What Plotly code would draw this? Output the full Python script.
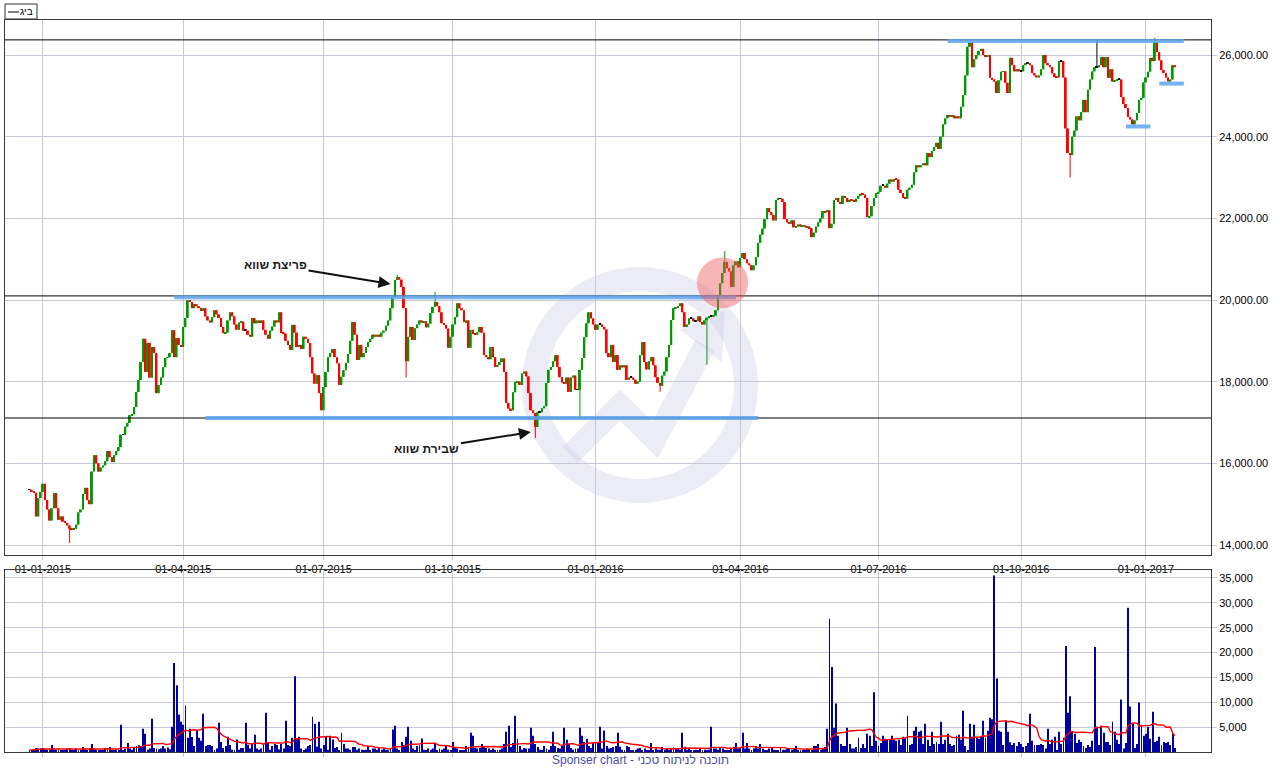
import numpy as np
import pandas as pd
import plotly.graph_objects as go

# ---------------- trading calendar (TASE: Sunday-Thursday) ----------------
HOLIDAYS = [
    "2015-03-17", "2015-04-23", "2015-05-24", "2015-07-26",
    "2015-09-13", "2015-09-14", "2015-09-15", "2015-09-22", "2015-09-23",
    "2015-09-27", "2015-09-28", "2015-10-04", "2015-10-05",
    "2016-04-28", "2016-05-12", "2016-06-12", "2016-08-14",
    "2016-10-02", "2016-10-03", "2016-10-04", "2016-10-11", "2016-10-12",
    "2016-10-16", "2016-10-17", "2016-10-23", "2016-10-24",
]
dates = pd.bdate_range("2014-12-24", "2017-01-18", freq="C",
                       weekmask="Sun Mon Tue Wed Thu", holidays=HOLIDAYS)

QUARTER_TICKS = ["2015-01-01", "2015-04-01", "2015-07-01", "2015-10-01",
                 "2016-01-01", "2016-04-01", "2016-07-01", "2016-10-01",
                 "2017-01-01"]

# ---------------- closing prices, per quarter ----------------
close_2014_12 = [15350, 15320, 15280, 14700, 15150, 15300]
close_2015_q1 = [
    15500, 15100, 14870, 14600, 14900, 15270, 14900, 14620, 14700, 14570,
    14540, 14480, 14400, 14380, 14400, 14500, 14800, 14870, 15250, 15400,
    15100, 15000, 15800, 16200, 16000, 15800, 15900, 15950, 16050, 16300,
    16150, 16030, 16200, 16300, 16400, 16700, 16700, 16900, 16990, 17180,
    17200, 17380, 17750, 18040, 18480, 19050, 18240, 18950, 18100, 18850,
    18700, 17720, 17920, 18100, 18360, 18580, 18600, 18700, 19260, 18600,
    19070, 18900, 18850]
close_2015_q2 = [
    19340, 19560, 20000, 19950, 19800, 19900, 19850, 19800, 19730, 19800,
    19600, 19500, 19450, 19580, 19750, 19650, 19560, 19340, 19190, 19200,
    19500, 19700, 19600, 19400, 19270, 19450, 19470, 19250, 19250, 19150,
    19100, 19560, 19430, 19500, 19460, 19500, 19270, 19150, 19050, 19250,
    19350, 19500, 19450, 19700, 19190, 19180, 19000, 18900, 18780, 19390,
    19200, 18850, 18900, 18800, 19100, 19050, 18950, 18600, 18200, 17950,
    18160, 17720, 17300]
close_2015_q3 = [
    17870, 18240, 18600, 18700, 18800, 18600, 18450, 17920, 18120, 18280,
    18460, 18680, 19000, 19460, 19150, 18530, 18900, 18600, 18700, 18850,
    18970, 19050, 19150, 19100, 19150, 19100, 19200, 19250, 19370, 19500,
    19800, 20070, 20490, 20560, 20500, 20320, 19800, 18500, 19100, 19340,
    19020, 19310, 19400, 19500, 19450, 19480, 19330, 19420, 19680, 19830,
    19950, 19850, 19700, 19430, 19390, 19300, 18830, 19100]
close_2015_q4 = [
    19400, 19580, 19920, 19800, 19750, 19460, 19500, 18830, 19270, 19170,
    19150, 19210, 19340, 19200, 18650, 18600, 18550, 18850, 18600, 18360,
    18410, 18480, 18570, 18240, 17480, 17340, 17300, 17740, 17990, 18000,
    17920, 18200, 18250, 18130, 17720, 17300, 17230, 16890, 17250, 17250,
    17350, 17400, 17970, 18290, 18360, 18500, 18650, 18360, 18110, 17980,
    17950, 18100, 17750, 18100, 18150, 17800, 17800, 18290, 18580, 19090,
    19430, 19700, 19550, 19400]
close_2016_q1 = [
    19270, 19400, 19400, 19340, 19280, 18700, 18600, 18900, 18480, 18650,
    18290, 18400, 18350, 18400, 18040, 18100, 18100, 18050, 17950, 18000,
    18650, 18970, 18480, 18300, 18500, 18600, 18400, 18110, 17970, 17900,
    18150, 18250, 18600, 18900, 19510, 19800, 19820, 19850, 19920, 19700,
    19340, 19400, 19550, 19550, 19480, 19480, 19600, 19460, 19400, 19500,
    19570, 19600, 19600, 19620, 19750, 20120, 20410, 20660, 20930, 20780,
    20700, 20320, 20850, 20950, 20800]
close_2016_q2 = [
    21030, 21150, 21000, 20900, 20850, 20730, 20850, 21050, 21400, 21600,
    21750, 21980, 22250, 22150, 22080, 21950, 22450, 22480, 22480, 22400,
    21980, 21900, 21870, 21950, 21780, 21800, 21850, 21800, 21830, 21780,
    21800, 21760, 21540, 21650, 21800, 21900, 22000, 22180, 22150, 22200,
    21760, 21870, 22450, 22500, 22400, 22350, 22550, 22500, 22400, 22450,
    22430, 22400, 22480, 22550, 22600, 22580, 22500, 22030, 22050, 22300,
    22500, 22620]
close_2016_q3 = [
    22650, 22800, 22800, 22750, 22850, 22950, 22900, 22960, 22950, 22700,
    22620, 22500, 22480, 22700, 22750, 22820, 23130, 23300, 23250, 23300,
    23350, 23300, 23600, 23500, 23650, 23750, 23850, 23700, 24000, 24300,
    24450, 24530, 24500, 24520, 24450, 24500, 24450, 24730, 25020, 25500,
    26200, 26300, 25700, 25900, 26000, 26100, 26150, 26000, 25950, 26000,
    25440, 25400, 25350, 25070, 25380, 25590, 25600, 25320, 25070, 25930,
    25750, 25600, 25650, 25600]
close_2016_q4 = [
    25600, 25750, 25800, 25800, 25750, 25560, 25500, 25450, 25500, 25650,
    26000, 25800, 25750, 25700, 25550, 25460, 25450, 25850, 25850, 25450,
    24200, 23600, 23550, 24000, 24150, 24500, 24400, 24600, 24900, 24600,
    25150, 25400, 25600, 25700, 25700, 25750, 25950, 25700, 25950, 25440,
    25650, 25350, 25380, 25400, 25400, 24970, 24800, 24700, 24480, 24420,
    24300, 24400, 24580, 24900, 24950, 25330]
close_2017_01 = [25450, 25590, 25930, 25850, 26320, 26070, 25870, 25630, 25560, 25450,
                 25350, 25400, 25750, 25700]

# notable intraday extremes (wicks)
HIGH_MARKS = {"2015-08-18": 20620, "2015-09-10": 20200, "2016-03-23": 21200,
              "2016-11-30": 26370, "2017-01-05": 26420}
LOW_MARKS = {"2015-01-19": 14050, "2015-08-24": 18100, "2015-11-25": 16620,
             "2015-12-23": 17110, "2016-02-11": 17750, "2016-03-13": 18410,
             "2016-11-14": 23000}

# ---------------- volume, per quarter ----------------
vol_2014_12 = [340, 470, 540, 810, 680, 680]
vol_2015_q1 = [
    810, 540, 470, 540, 1400, 680, 340, 680, 340, 340,
    470, 680, 810, 340, 470, 680, 340, 340, 1000, 540,
    340, 680, 1600, 680, 470, 340, 340, 470, 810, 810,
    1020, 340, 340, 470, 200, 5500, 340, 680, 1800, 680,
    470, 1020, 1220, 1350, 1220, 4700, 3650, 470, 680, 6700,
    810, 680, 540, 680, 1220, 680, 880, 540, 5100, 17900,
    13400, 7500, 6100]
vol_2015_q2 = [
    5500, 9350, 2850, 4700, 3000, 1220, 4300, 2850, 2240, 7700,
    1220, 1420, 1420, 1220, 300, 680, 5900, 2030, 810, 1220,
    3050, 1420, 470, 340, 2500, 470, 810, 810, 5900, 1420,
    680, 1830, 3450, 680, 470, 680, 1700, 7900, 1830, 470,
    1220, 1630, 1420, 500, 1630, 680, 6300, 1420, 1220, 2850,
    15250, 2640, 3050, 680, 340, 680, 1220, 1420, 7100, 5700,
    1080, 6100, 680]
vol_2015_q3 = [
    1420, 3050, 470, 3250, 2500, 810, 1020, 340, 3860, 1630,
    680, 680, 470, 1020, 1020, 470, 680, 470, 340, 470,
    1220, 340, 680, 680, 470, 810, 470, 680, 470, 470,
    680, 4500, 5300, 680, 340, 2030, 1420, 3050, 5100, 2240,
    680, 340, 1220, 1350, 2700, 470, 340, 680, 470, 680,
    1630, 340, 680, 470, 680, 1420, 470, 340]
vol_2015_q4 = [
    2030, 1020, 680, 340, 200, 200, 1220, 1020, 3860, 3250,
    810, 680, 810, 1630, 1220, 810, 680, 340, 680, 470,
    340, 470, 680, 1630, 4050, 5300, 1020, 1830, 7300, 2640,
    1220, 470, 810, 680, 680, 4900, 3250, 1630, 1020, 470,
    340, 1220, 680, 470, 1220, 4050, 1220, 810, 680, 1220,
    4900, 2440, 1630, 810, 470, 680, 680, 4900, 3250, 2030,
    2640, 1220, 810, 1830]
vol_2016_q1 = [
    2030, 2030, 5100, 680, 4300, 1220, 680, 810, 1020, 1220,
    3860, 1080, 470, 340, 1220, 1020, 340, 340, 470, 680,
    810, 340, 680, 340, 340, 1830, 340, 680, 470, 470,
    1020, 470, 680, 340, 680, 880, 680, 680, 470, 3860,
    1080, 470, 680, 340, 340, 470, 340, 680, 340, 470,
    340, 470, 5100, 680, 680, 470, 810, 680, 340, 340,
    340, 680, 1020, 1830, 680]
vol_2016_q2 = [
    810, 3860, 680, 1830, 680, 340, 680, 1220, 680, 1630,
    680, 340, 340, 680, 810, 470, 340, 340, 1020, 470,
    470, 680, 810, 470, 680, 1220, 340, 340, 470, 340,
    680, 470, 340, 1220, 1220, 1630, 470, 680, 1020, 4700,
    26800, 17100, 4900, 9750, 3250, 1630, 1220, 1220, 4900, 1630,
    680, 680, 1020, 2850, 810, 1630, 810, 3650, 3250, 1220,
    12000, 2240]
vol_2016_q3 = [
    1220, 1830, 3250, 2640, 2440, 2440, 3250, 2440, 2240, 2440,
    1420, 3050, 2850, 7300, 1420, 1630, 4270, 5100, 4060, 4270,
    1630, 5700, 2440, 1220, 4060, 1630, 2030, 1630, 6100, 1630,
    2440, 3660, 1630, 1220, 1420, 3250, 3460, 2440, 8300, 1220,
    340, 5700, 3050, 5500, 2850, 2640, 3050, 6300, 2850, 4270,
    6900, 6600, 35500, 14800, 4270, 4060, 1420, 6300, 4060, 1960,
    1420, 1830, 1220, 2030]
vol_2016_q4 = [
    1600, 1000, 1200, 1800, 7700, 2250, 1400, 1400, 1400, 1600,
    1400, 700, 4700, 1600, 2450, 3050, 300, 4050, 1600, 2850,
    21300, 7900, 11200, 4050, 3650, 1800, 2450, 2000, 1200, 800,
    1400, 1000, 2250, 21100, 5100, 1400, 5300, 3850, 2000, 2000,
    1400, 6100, 4050, 2450, 1600, 10550, 700, 1800, 29000, 9150,
    5700, 800, 1600, 9950, 5500, 3250]
vol_2017_01 = [3650, 5100, 2650, 8100, 2000, 2250, 3050, 1400, 2000, 1800,
               2000, 1400, 3650, 800]

MA_WINDOW = 20
SERIES_NAME = "ביג"

# ---------------- analyst drawings ----------------
BLACK_LEVELS = [26370, 20100, 17110]
BLUE_LINES = [  # (from, to, level); to=None -> runs past the last bar
    ("2015-03-26", "2016-03-30", 20070),
    ("2015-04-15", "2016-04-13", 17110),
    ("2016-08-16", None, 26340),
    ("2016-12-19", "2017-01-03", 24250),
    ("2017-01-09", None, 25300),
]
CIRCLE = ("2016-03-22", 20420)
NOTES = [  # text, arrow tip date, arrow tip price, text offset (px)
    ("פריצת שווא", "2015-08-13", 20390, -115, -19),
    ("שבירת שווא", "2015-11-23", 16770, -104, 17),
]

# ---------------- assemble ----------------
close = np.array(close_2014_12 + close_2015_q1 + close_2015_q2 + close_2015_q3 +
                 close_2015_q4 + close_2016_q1 + close_2016_q2 + close_2016_q3 +
                 close_2016_q4 + close_2017_01, dtype=float)
vol = np.array(vol_2014_12 + vol_2015_q1 + vol_2015_q2 + vol_2015_q3 + vol_2015_q4 +
               vol_2016_q1 + vol_2016_q2 + vol_2016_q3 + vol_2016_q4 + vol_2017_01,
               dtype=float)
assert len(close) == len(dates) == len(vol), (len(close), len(dates), len(vol))

n = len(dates)
idx = np.arange(n)


def pos(d):
    return int(dates.searchsorted(pd.Timestamp(d)))


opn = np.r_[close[0], close[:-1]]
high = np.maximum(opn, close)
low = np.minimum(opn, close)
for d, v in HIGH_MARKS.items():
    high[pos(d)] = v
for d, v in LOW_MARKS.items():
    low[pos(d)] = v
ma = pd.Series(vol).rolling(MA_WINDOW, min_periods=1).mean().values

tick_idx = [pos(q) for q in QUARTER_TICKS]
tick_txt = [pd.Timestamp(q).strftime("%d-%m-%Y") for q in QUARTER_TICKS]

UP, DOWN, FLAT = "#009A00", "#FF0000", "#000000"
GRID = "#C8C8DA"
AXC = "#3A3A3A"
XR = [-11.0, n - 1 + 16.2]

direction = np.where(close > opn, UP, np.where(close < opn, DOWN, FLAT))
body_lo = np.minimum(opn, close)
body_h = np.maximum(np.abs(close - opn), 18)

fig = go.Figure()
# wicks, one trace per colour
for col in (UP, DOWN, FLAT):
    sel = np.where(direction == col)[0]
    if len(sel) == 0:
        continue
    wx, wy = [], []
    for i in sel:
        wx += [i, i, None]
        wy += [low[i], high[i], None]
    fig.add_trace(go.Scatter(x=wx, y=wy, mode="lines", line=dict(color=col, width=1),
                             showlegend=False, hoverinfo="skip", xaxis="x", yaxis="y"))
# candle bodies
fig.add_trace(go.Bar(x=idx, base=body_lo, y=body_h, width=0.85,
                     marker=dict(color=direction, line=dict(width=0)),
                     showlegend=False, hoverinfo="skip", xaxis="x", yaxis="y"))
# volume + moving average
fig.add_trace(go.Bar(x=idx, y=vol, marker=dict(color="#0000A0", line=dict(width=0)),
                     width=0.42, showlegend=False, xaxis="x2", yaxis="y2"))
fig.add_trace(go.Scatter(x=idx, y=ma, mode="lines", line=dict(color="#FF0000", width=1.4),
                         showlegend=False, xaxis="x2", yaxis="y2"))

font = dict(family="Liberation Sans, Arial", size=11, color="#000")
common_x = dict(range=XR, tickvals=tick_idx, showgrid=True, gridcolor=GRID, gridwidth=1,
                zeroline=False, showline=True, mirror=True, linecolor=AXC, linewidth=1,
                ticks="outside", ticklen=4, tickcolor=GRID, tickfont=font,
                automargin=False)
common_y = dict(side="right", showgrid=True, gridcolor=GRID, zeroline=False, showline=True,
                mirror=True, linecolor=AXC, ticks="outside", ticklen=5, tickcolor=GRID,
                tickfont=font, automargin=False)
fig.update_layout(
    width=1280, height=768, paper_bgcolor="white", plot_bgcolor="white",
    margin=dict(l=5, r=69, t=20, b=16, autoexpand=False), showlegend=False,
    barmode="overlay",
    xaxis=dict(domain=[0, 1], anchor="y", ticktext=tick_txt, **common_x),
    xaxis2=dict(domain=[0, 1], anchor="y2", showticklabels=False, **common_x),
    yaxis=dict(domain=[0.2691, 1], range=[13755, 26857],
               tickvals=list(range(14000, 26001, 2000)), tickformat=",.2f", **common_y),
    yaxis2=dict(domain=[0, 0.2486], range=[0, 36600],
                tickvals=list(range(5000, 35001, 5000)), tickformat=",d", **common_y),
)

shapes = []


def px2paper(px, py):
    return (px - 5) / 1206.0, (752 - py) / 732.0


# watermark (logo)
WM = "rgba(205,205,235,0.38)"
cx, cy = px2paper(640, 385)
rx, ry = 106 / 1206.0, 106 / 732.0
shapes.append(dict(type="circle", xref="paper", yref="paper", x0=cx - rx, x1=cx + rx,
                   y0=cy - ry, y1=cy + ry, line=dict(color=WM, width=24), layer="between"))
pts = [px2paper(*p) for p in [(570, 455), (620, 405), (655, 440), (705, 345)]]
path = "M " + " L ".join(f"{x:.4f},{y:.4f}" for x, y in pts)
shapes.append(dict(type="path", xref="paper", yref="paper", path=path,
                   line=dict(color=WM, width=22), layer="between"))
tri = [px2paper(*p) for p in [(680, 330), (725, 310), (722, 362)]]
shapes.append(dict(type="path", xref="paper", yref="paper",
                   path="M " + " L ".join(f"{x:.4f},{y:.4f}" for x, y in tri) + " Z",
                   fillcolor=WM, line=dict(width=0), layer="between"))

# legend box (top-left): frame, line sample, and the series name
bx0, by0 = px2paper(5, 19)
bx1, by1 = px2paper(37, 4)
shapes.append(dict(type="rect", xref="paper", yref="paper", x0=bx0, x1=bx1, y0=by0, y1=by1,
                   line=dict(color="#333", width=1), fillcolor="white", layer="above"))
lx0, ly = px2paper(8, 12)
lx1, _ = px2paper(19, 12)
shapes.append(dict(type="line", xref="paper", yref="paper", x0=lx0, x1=lx1, y0=ly, y1=ly,
                   line=dict(color="#000", width=1), layer="above"))

for lvl in BLACK_LEVELS:
    shapes.append(dict(type="line", xref="x domain", yref="y", x0=0, x1=1, y0=lvl, y1=lvl,
                       line=dict(color="#000", width=1), layer="above"))
for a, b, lvl in BLUE_LINES:
    x0 = pos(a)
    x1 = pos(b) if b else n - 1 + 4
    shapes.append(dict(type="line", xref="x", yref="y", x0=x0, x1=x1, y0=lvl, y1=lvl,
                       line=dict(color="rgba(95,165,240,0.85)", width=4), layer="above"))
ci = pos(CIRCLE[0])
shapes.append(dict(type="circle", xref="x", yref="y", x0=ci - 11.5, x1=ci + 11.5,
                   y0=CIRCLE[1] - 620, y1=CIRCLE[1] + 620,
                   fillcolor="rgba(240,90,90,0.45)", line=dict(width=0), layer="above"))
fig.update_layout(shapes=shapes)

ann = []
for text, d, price, ax, ay in NOTES:
    ann.append(dict(x=pos(d), y=price, xref="x", yref="y", text="<b>" + text + "</b>",
                    showarrow=True, ax=ax, ay=ay, arrowhead=2, arrowsize=1.2, arrowwidth=2,
                    arrowcolor="#111", font=dict(family="Liberation Sans, Arial", size=12,
                                                 color="#1a1a1a")))
tx, ty = px2paper(35, 12)
ann.append(dict(x=tx, y=ty, xref="paper", yref="paper", xanchor="right",
                yanchor="middle", text=SERIES_NAME, showarrow=False,
                font=dict(family="Liberation Sans, Arial", size=10, color="#000")))
ann.append(dict(x=(640 - 5) / 1206.0, y=(752 - 760) / 732.0, xref="paper", yref="paper",
                xanchor="center", yanchor="middle", showarrow=False,
                text="Sponser chart - תוכנה לניתוח טכני",
                font=dict(family="Liberation Sans, Arial", size=12, color="#4B4BA5")))
fig.update_layout(annotations=ann)

fig.write_html("out.html", config={"displayModeBar": False},
               post_script="document.body.style.margin='0px';"
                           "document.body.style.padding='0px';")
